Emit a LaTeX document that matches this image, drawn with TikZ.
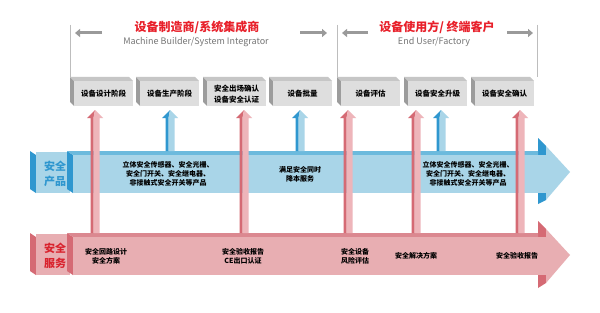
\documentclass[tikz,border=0pt]{standalone}
\usepackage{fontspec}
\newfontfamily\cjk{Noto Sans CJK SC}
\usetikzlibrary{positioning, calc, arrows.meta}
\definecolor{titlered}{HTML}{E8202A}
\definecolor{subgray}{HTML}{757575}
\definecolor{guidegray}{HTML}{9A9A9A}
\definecolor{linegray}{HTML}{BDBDBD}
\definecolor{cardfront}{HTML}{DEDEDE}
\definecolor{cardside}{HTML}{9C9C9C}
\definecolor{cardtop}{HTML}{C6C6C6}
\definecolor{bluelight}{HTML}{A9D5E8}
\definecolor{bluetop}{HTML}{6CBADD}
\definecolor{bluedark}{HTML}{2F97CF}
\definecolor{redlight}{HTML}{E8AEB2}
\definecolor{redtop}{HTML}{DB8890}
\definecolor{reddark}{HTML}{D56A74}
\definecolor{redpale}{HTML}{EEB5BA}
\definecolor{redtext}{HTML}{D9232E}

\begin{document}
\begin{tikzpicture}[x=1pt, y=-1pt, font=\cjk,
  headline/.style={inner sep=0pt, text=titlered, font=\cjk\bfseries\fontsize{12}{14}\selectfont},
  subline/.style={inner sep=0pt, text=subgray, font=\cjk\fontsize{9}{11}\selectfont},
  stage/.style={fill=cardfront, minimum width=59pt, minimum height=25pt, inner sep=0pt,
    align=center, font=\cjk\bfseries\fontsize{7.5}{11}\selectfont},
  bandtext/.style={align=center, inner sep=0pt, font=\cjk\bfseries\fontsize{7}{9}\selectfont},
  tag/.style={align=center, inner sep=0pt, font=\cjk\bfseries\fontsize{11}{15}\selectfont},
  span/.style={guidegray, line width=3pt, -{Triangle[length=5pt, width=8pt]}},
  guideline/.style={linegray, line width=0.8pt},
  pics/riser/.style n args={3}{code={
    \fill[#2] (-4.5,0) -- (-4.5,8-#1) -- (-8,8-#1) -- (0,-#1) -- (-1.5,8-#1) -- (-1.5,0) -- cycle;
    \fill[#3] (-1.5,0) -- (-1.5,8-#1) -- (0,-#1) -- (8,8-#1) -- (4.5,8-#1) -- (4.5,0) -- cycle;
  }}]
  \useasboundingbox (0,0) rectangle (600,313);
  \fill[white] (0,0) rectangle (600,313);

  % Acteurs (haut)
  \coordinate (sepA) at (70,25);
  \coordinate (sepB) at (337,25);
  \coordinate (sepC) at (537,25);
  \foreach \s in {sepA, sepB, sepC}{
    \draw[guideline] (\s) -- ++(0,52);
  }
  \node[headline] (maker) at (197,27) {设备制造商/系统集成商};
  \node[subline] (makeren) at (196,42) {Machine Builder/System Integrator};
  \node[headline] (user) at (437,27) {设备使用方/ 终端客户};
  \node[subline] (useren) at (434,42) {End User/Factory};
  \draw[span] ([shift={(32,8)}]sepA) -- ([shift={(5,8)}]sepA);
  \draw[span] ([shift={(-37,8)}]sepB) -- ([shift={(-10,8)}]sepB);
  \draw[span] ([shift={(31,8)}]sepB) -- ([shift={(5,8)}]sepB);
  \draw[span] ([shift={(-30,8)}]sepC) -- ([shift={(-4,8)}]sepC);

  % Etapes (boites 3D)
  \foreach \i/\x/\txt in {1/70/{设备设计阶段}, 2/136/{设备生产阶段}, 3/203/{安全出场确认\\设备安全认证},
      4/269/{设备批量}, 5/337/{设备评估}, 6/404/{设备安全升级}, 7/471/{设备安全确认}}{
    \fill[cardside] (\x,77) -- (\x+4,81) -- (\x+4,106) -- (\x,102) -- cycle;
    \fill[cardtop] (\x,77) -- (\x+59,77) -- (\x+63,81) -- (\x+4,81) -- cycle;
    \node[stage, anchor=north west] (b\i) at (\x+4,81) {\txt};
  }

  % Bande produits (bleu)
  \fill[bluedark] (30,151) -- (36,155) -- (36,193) -- (30,189) -- cycle;
  \fill[bluelight] (36,152) rectangle (70,193);
  \fill[bluedark] (538,138) -- (546,146) -- (546,200) -- (538,204) -- cycle;
  \fill[bluedark] (67,151) -- (73,155) -- (73,193) -- (67,189) -- cycle;
  \fill[bluetop] (67,151) -- (538,151) -- (538,155) -- (73,155) -- cycle;
  \fill[bluelight] (73,155) rectangle (546,193);
  \fill[bluelight] (546,146) -- (570,172) -- (546,200) -- cycle;
  \foreach \x in {170, 300, 441}{
    \pic at (\x,151) {riser={41}{bluedark}{bluelight}};
  }

  % Bande services (rouge)
  \fill[reddark] (30,233) -- (36,237) -- (36,275) -- (30,271) -- cycle;
  \fill[redlight] (36,234) rectangle (70,275);
  \fill[reddark] (538,221) -- (546,229) -- (546,283) -- (538,288) -- cycle;
  \fill[reddark] (67,233) -- (73,237) -- (73,275) -- (67,271) -- cycle;
  \fill[redtop] (67,233) -- (538,233) -- (538,237) -- (73,237) -- cycle;
  \fill[redlight] (73,237) rectangle (546,275);
  \fill[redlight] (546,229) -- (570,255) -- (546,283) -- cycle;
  \foreach \x in {95, 244, 348, 416, 520}{
    \pic at (\x,233) {riser={123}{reddark}{redpale}};
  }

  % Textes des bandes
  \node[tag, text=bluedark] (prod) at (55,174) {安全\\产品};
  \node[tag, text=redtext] (serv) at (55,256) {安全\\服务};
  \node[bandtext] (p1) at (168,174) {立体安全传感器、安全光栅、\\安全门开关、安全继电器、\\非接触式安全开关等产品};
  \node[bandtext] (p2) at (300,174) {满足安全同时\\降本服务};
  \node[bandtext] (p3) at (468,174) {立体安全传感器、安全光栅、\\安全门开关、安全继电器、\\非接触式安全开关等产品};
  \node[bandtext] (s1) at (106,256) {安全回路设计\\安全方案};
  \node[bandtext] (s2) at (243,256) {安全验收报告\\CE出口认证};
  \node[bandtext] (s3) at (355,256) {安全设备\\风险评估};
  \node[bandtext] (s4) at (416,256) {安全解决方案};
  \node[bandtext] (s5) at (517,256) {安全验收报告};
\end{tikzpicture}
\end{document}
